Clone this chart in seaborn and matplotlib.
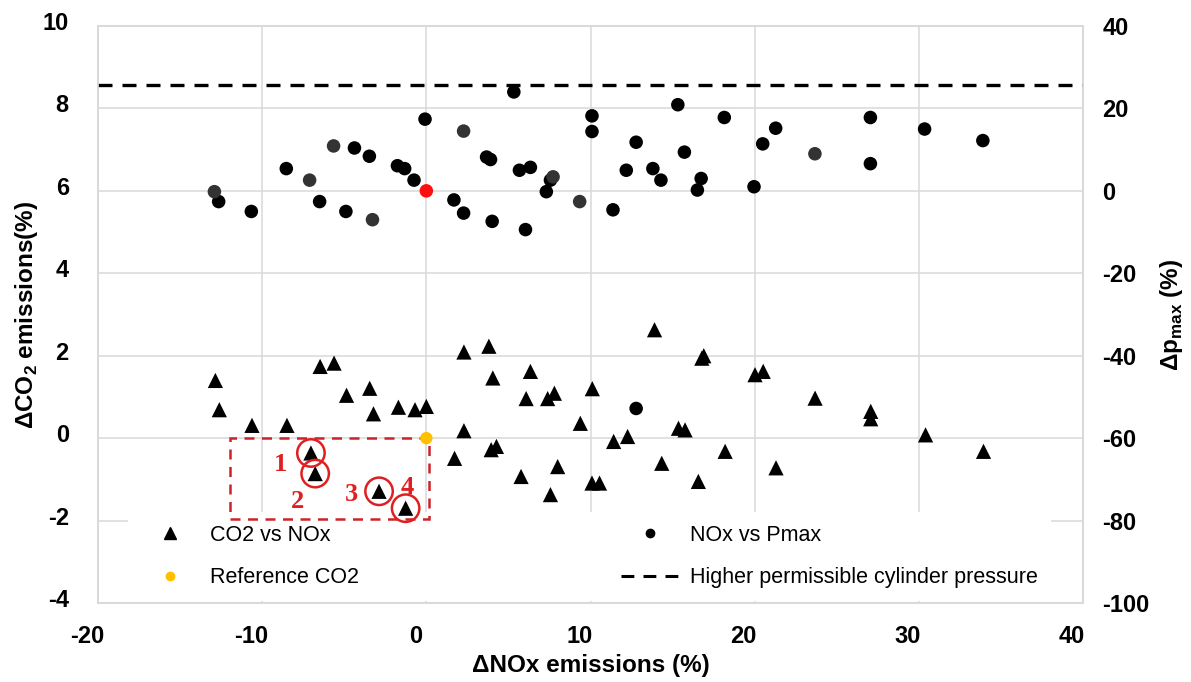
import numpy as np
import pandas as pd
import matplotlib
matplotlib.use("Agg")
import matplotlib.pyplot as plt
import matplotlib.transforms as mtransforms
from matplotlib.patches import Rectangle
from matplotlib.lines import Line2D
import seaborn as sns

# ---------------- data ----------------
co2_nox_x = [-12.85, -12.61, -10.62, -8.49, -6.47, -5.62, -4.86, -3.45, -3.22, -1.70,
             -0.69, 0.0, 2.29, 2.29, 1.72, -7.03, -6.77, -2.88, -1.26, 3.81,
             13.9, 16.78, 16.9, 6.34, 4.05, 6.08, 7.39, 7.80, 10.11, 9.38,
             20.02, 20.52, 11.41, 12.26, 15.36, 15.76, 3.95, 4.27, 8.0, 5.77,
             7.56, 10.09, 10.55, 14.34, 16.57, 18.2, 21.3, 23.68, 27.07, 27.07,
             30.41, 33.94]
co2_nox_y = [1.40, 0.69, 0.31, 0.31, 1.74, 1.82, 1.04, 1.21, 0.59, 0.75,
             0.69, 0.77, 2.09, 0.18, -0.49, -0.36, -0.86, -1.29, -1.70, 2.23,
             2.63, 1.94, 2.00, 1.62, 1.46, 0.96, 0.96, 1.09, 1.20, 0.36,
             1.54, 1.62, -0.08, 0.04, 0.24, 0.20, -0.28, -0.20, -0.69, -0.93,
             -1.37, -1.09, -1.09, -0.61, -1.05, -0.32, -0.72, 0.97, 0.65, 0.47,
             0.08, -0.32]

pmax_x = [-12.65, -10.66, -8.53, -6.5, -4.38, -3.47, -4.9, -1.76, -1.32, -0.75,
          -0.08, 1.68, 2.27, 5.33, 10.09, 10.09, 15.32, 18.15, 20.49, 3.67,
          3.91, 5.67, 6.34, 7.56, 7.31, 4.01, 6.04, 11.37, 12.78, 12.18,
          13.80, 14.29, 15.72, 16.74, 16.51, 19.96, 21.28, 27.05, 27.05, 30.35,
          33.9, 12.78]
pmax_y = [-2.6, -5.0, 5.4, -2.6, 10.4, 8.4, -5.0, 6.1, 5.4, 2.6,
          17.4, -2.2, -5.4, 24.0, 18.2, 14.4, 20.9, 17.8, 11.4, 8.2,
          7.6, 5.0, 5.7, 2.6, -0.2, -7.4, -9.4, -4.6, 11.8, 5.0,
          5.4, 2.6, 9.4, 3.0, 0.2, 1.0, 15.2, 17.8, 6.6, 15.0,
          12.2, -52.8]
pmax_grey_x = [-12.91, -7.11, -5.65, -3.28, 2.27, 7.72, 9.34, 23.67]
pmax_grey_y = [-0.2, 2.6, 10.9, -7.0, 14.5, 3.4, -2.6, 9.0]

ref_co2_x, ref_co2_y = [0.0], [0.0]
ref_pmax_x, ref_pmax_y = [0.0], [0.0]
pmax_limit = 25.6

highlight_x = [-7.03, -6.77, -2.88, -1.26]
highlight_y = [-0.36, -0.86, -1.29, -1.70]
highlight_labels = ["1", "2", "3", "4"]
box_x = (-11.95, 0.14)
box_y = (-1.95, 0.0)

x_ticks = [-20, -10, 0, 10, 20, 30, 40]
left_ticks = [-4, -2, 0, 2, 4, 6, 8, 10]
right_ticks = [-100, -80, -60, -40, -20, 0, 20, 40]

legend_labels = ["CO2 vs NOx", "Reference CO2", "NOx vs Pmax",
                 "Higher permissible cylinder pressure"]

# ---------------- style ----------------
sns.set_style("white")
plt.rcParams["font.family"] = ["Liberation Sans", "DejaVu Sans"]
plt.rcParams["mathtext.fontset"] = "custom"
plt.rcParams["mathtext.rm"] = "Liberation Sans:bold"
plt.rcParams["mathtext.bf"] = "Liberation Sans:bold"
plt.rcParams["axes.unicode_minus"] = False
plt.rcParams["text.color"] = "black"
plt.rcParams["axes.labelcolor"] = "black"
plt.rcParams["xtick.color"] = "black"
plt.rcParams["ytick.color"] = "black"

GRID = "#d9d9d9"
fig = plt.figure(figsize=(11.91, 6.82), dpi=100)
ax1 = fig.add_axes([98 / 1191, 1 - 603 / 682, (1083 - 98) / 1191, (603 - 26) / 682])
ax2 = ax1.twinx()

df_tri = pd.DataFrame({"x": co2_nox_x, "y": co2_nox_y})
df_c = pd.DataFrame({"x": pmax_x, "y": pmax_y})
df_cg = pd.DataFrame({"x": pmax_grey_x, "y": pmax_grey_y})

# triangles on left axis
sns.scatterplot(data=df_tri, x="x", y="y", ax=ax1, marker="^", s=120,
                color="black", edgecolor="none", zorder=3, legend=False)
sns.scatterplot(x=ref_co2_x, y=ref_co2_y, ax=ax1, marker="o", s=80,
                color="#FFC000", edgecolor="none", zorder=4, legend=False)
# highlighted points
ax1.scatter(highlight_x, highlight_y, s=390, facecolors="none",
            edgecolors="#e02020", linewidths=1.8, zorder=5)
for hx, hy, lab, off in zip(highlight_x, highlight_y, highlight_labels,
                            [(-22, -8), (-13, -20), (-20, -2), (1, 15)]):
    ax1.annotate(lab, (hx, hy), xytext=off, textcoords="offset points",
                 ha="center", va="center", color="#e02020",
                 fontsize=19, fontweight="bold", family="Liberation Serif", zorder=6)
ax1.add_patch(Rectangle((box_x[0], box_y[0]), box_x[1] - box_x[0], box_y[1] - box_y[0],
                        fill=False, edgecolor="#cc2229", lw=1.8,
                        linestyle=(0, (4, 3)), zorder=2))

# circles on right axis
sns.scatterplot(data=df_c, x="x", y="y", ax=ax2, marker="o", s=95,
                color="black", edgecolor="none", zorder=3, legend=False)
sns.scatterplot(data=df_cg, x="x", y="y", ax=ax2, marker="o", s=95,
                color="#333333", edgecolor="none", zorder=3, legend=False)
sns.scatterplot(x=ref_pmax_x, y=ref_pmax_y, ax=ax2, marker="o", s=95,
                color="#ff1010", edgecolor="none", zorder=4, legend=False)
ax2.axhline(pmax_limit, color="black", lw=2.4, linestyle=(0, (4.2, 3.0)), zorder=2)

# axes
ax1.set_xlim(x_ticks[0], x_ticks[-1])
ax1.set_ylim(left_ticks[0], left_ticks[-1])
ax2.set_ylim(right_ticks[0], right_ticks[-1])
ax1.set_xticks(x_ticks)
ax1.set_yticks(left_ticks)
ax2.set_yticks(right_ticks)
ax1.grid(True, color=GRID, lw=1.1)
ax2.grid(False)
for ax in (ax1, ax2):
    for sp in ax.spines.values():
        sp.set_color(GRID)
        sp.set_linewidth(1.1)
ax1.tick_params(axis="both", length=0, labelsize=17, labelcolor="black")
ax1.tick_params(axis="x", pad=16)
ax1.tick_params(axis="y", pad=21)
ax2.tick_params(axis="y", length=0, labelsize=17, pad=14, labelcolor="black")
for lab in ax1.get_xticklabels() + ax1.get_yticklabels() + ax2.get_yticklabels():
    lab.set_fontweight("bold")
for lab in ax1.get_xticklabels():
    lab.set_transform(lab.get_transform() + mtransforms.ScaledTranslation(-11 / 100, 0, fig.dpi_scale_trans))
for lab in ax1.get_yticklabels():
    lab.set_transform(lab.get_transform() + mtransforms.ScaledTranslation(0, 5 / 100, fig.dpi_scale_trans))

ax1.set_xlabel("ΔNOx emissions (%)", fontsize=17.5, fontweight="bold", labelpad=4, color="black")
ax1.set_ylabel("ΔCO$_{\\mathrm{2}}$ emissions(%)", fontsize=17.5, fontweight="bold", labelpad=2, color="black")
ax2.set_ylabel("Δp$_{\\mathrm{max}}$ (%)", fontsize=17.5, fontweight="bold", labelpad=6, color="black")

# legend (on the left axes, above the grid but below the marks)
handles = [
    Line2D([], [], marker="^", color="black", ls="none", ms=8),
    Line2D([], [], marker="o", color="#FFC000", ls="none", ms=6),
    Line2D([], [], marker="o", color="black", ls="none", ms=6),
    Line2D([], [], color="black", lw=2.2, ls=(0, (4.2, 3.0))),
]
leg = ax1.legend(handles, legend_labels, ncol=2, loc="upper left",
                 bbox_to_anchor=(0.0194, 0.177), frameon=True, facecolor="white",
                 edgecolor="none", framealpha=1, fontsize=15.5, handlelength=2.7,
                 handletextpad=0.5, columnspacing=12.2, labelspacing=1.0,
                 borderpad=0.6)
for t in leg.get_texts():
    t.set_color("black")
leg.set_zorder(1.5)

fig.savefig("out.png", dpi=100)
